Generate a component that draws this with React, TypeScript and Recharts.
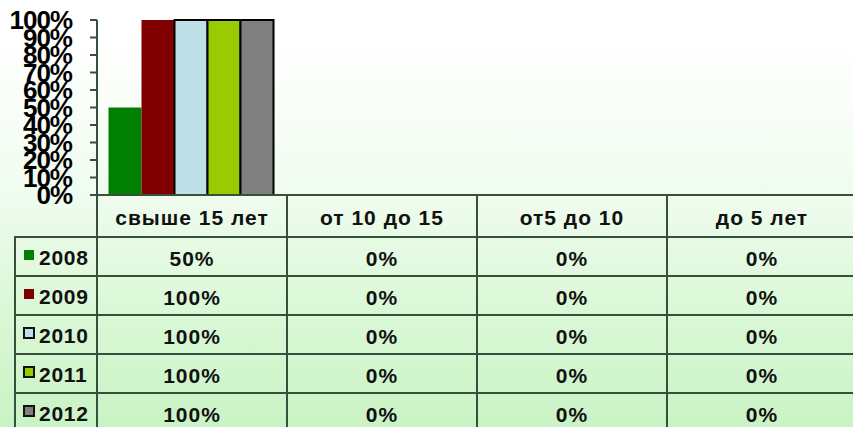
import { BarChart, Bar, XAxis, YAxis, Legend } from "recharts";

const categories = ["свыше 15 лет", "от 10 до 15", "от5 до 10", "до 5 лет"];
const years = ["2008", "2009", "2010", "2011", "2012"];
const v2008 = [0.5, 0, 0, 0];
const v2009 = [1, 0, 0, 0];
const v2010 = [1, 0, 0, 0];
const v2011 = [1, 0, 0, 0];
const v2012 = [1, 0, 0, 0];
const yTicks = [0, 0.1, 0.2, 0.3, 0.4, 0.5, 0.6, 0.7, 0.8, 0.9, 1];

const seriesValues = [v2008, v2009, v2010, v2011, v2012];
const colors = ["#008000", "#800000", "#bfe0e6", "#99cc00", "#808080"];
const strokes = ["none", "none", "#000", "#000", "#000"];

const data = categories.map((name, i) => {
  const row: Record<string, any> = { name };
  years.forEach((y, k) => (row[y] = seriesValues[k][i]));
  return row;
});

const W = 853;
const H = 427;
const MARGIN = { top: 20, right: -4, left: 0, bottom: 190 };
const Y_W = 97;
const HEADER_H = 42;
const ROW_H = 39;
const COL_W = (W - MARGIN.left - Y_W - MARGIN.right) / categories.length;
const LINE = "#36503c";
const TXT = "#111";
const FONT = "'Liberation Sans', Arial, sans-serif";

const pct = (v: number) => `${Math.round(v * 100)}%`;

// header + value cells for one category column
const TableColumn = (props: any) => {
  const { x, y, payload } = props;
  const i = payload.index;
  const left = x - COL_W / 2;
  const right = x + COL_W / 2;
  return (
    <g>
      {i === 0 && <line x1={left} y1={y} x2={left} y2={H} stroke={LINE} strokeWidth={2} />}
      <line x1={right} y1={y} x2={right} y2={H} stroke={LINE} strokeWidth={2} />
      <text x={x} y={y + HEADER_H / 2 + 1} textAnchor="middle" dominantBaseline="central"
        fontSize={21} fontWeight="bold" fill={TXT} letterSpacing={1} fontFamily={FONT}>
        {payload.value}
      </text>
      {seriesValues.map((vals, r) => {
        const top = y + HEADER_H + r * ROW_H;
        return (
          <g key={r}>
            <line x1={left} y1={top} x2={right} y2={top} stroke={LINE} strokeWidth={2} />
            <text x={x} y={top + ROW_H / 2 + 2} textAnchor="middle" dominantBaseline="central"
              fontSize={21} fontWeight="bold" fill={TXT} letterSpacing={1} fontFamily={FONT}>
              {pct(vals[i])}
            </text>
          </g>
        );
      })}
    </g>
  );
};

// legend drawn as the left key column of the data table
const TableLegend = (props: any) => {
  const { payload = [] } = props;
  return (
    <svg width={84} height={H - 237} style={{ display: "block", overflow: "visible" }}>
      <line x1={1} y1={0} x2={1} y2={H} stroke={LINE} strokeWidth={2} />
      {payload.map((entry: any, r: number) => {
        const top = r * ROW_H;
        const k = years.indexOf(entry.value);
        return (
          <g key={entry.value}>
            <line x1={0} y1={top} x2={83} y2={top} stroke={LINE} strokeWidth={2} />
            <rect x={10} y={top + 13} width={10} height={10} fill={entry.color}
              stroke={strokes[k] === "none" ? "none" : "#111"} strokeWidth={2} />
            <text x={25} y={top + ROW_H / 2 + 1} dominantBaseline="central" fontSize={21}
              fontWeight="bold" fill={TXT} letterSpacing={0.7} fontFamily={FONT}>
              {entry.value}
            </text>
          </g>
        );
      })}
    </svg>
  );
};

export default function App() {
  return (
    <div
      style={{
        position: "absolute",
        left: 0,
        top: 0,
        width: W,
        height: H,
        overflow: "hidden",
        fontFamily: FONT,
        background:
          "linear-gradient(to bottom, #ffffff 0%, #ffffff 9%, #f0fcef 45%, #dcf8d8 70%, #c9f3c5 100%)",
      }}
    >
      <BarChart width={W} height={H} data={data} margin={MARGIN} barCategoryGap={11.5} barGap={0}>
        <XAxis
          dataKey="name"
          height={HEADER_H}
          tickSize={0}
          tickMargin={0}
          tickLine={false}
          interval={0}
          axisLine={{ stroke: LINE, strokeWidth: 2 }}
          tick={<TableColumn />}
        />
        <YAxis
          width={Y_W}
          domain={[0, 1]}
          ticks={yTicks}
          interval={0}
          tickFormatter={pct}
          tickSize={7}
          tickMargin={18}
          axisLine={{ stroke: LINE, strokeWidth: 2 }}
          tickLine={{ stroke: LINE, strokeWidth: 2 }}
          tick={{ fill: "#000", fontSize: 26, fontWeight: "bold", fontFamily: FONT, letterSpacing: -1 }}
        />
        <Legend
          align="center"
          verticalAlign="middle"
          layout="vertical"
          content={<TableLegend />}
          wrapperStyle={{ left: 14, top: 237, width: 84, height: H - 237, margin: 0 }}
        />
        {years.map((y, k) => (
          <Bar
            key={y}
            dataKey={y}
            name={y}
            fill={colors[k]}
            stroke={strokes[k]}
            strokeWidth={2}
            isAnimationActive={false}
          />
        ))}
      </BarChart>
    </div>
  );
}
